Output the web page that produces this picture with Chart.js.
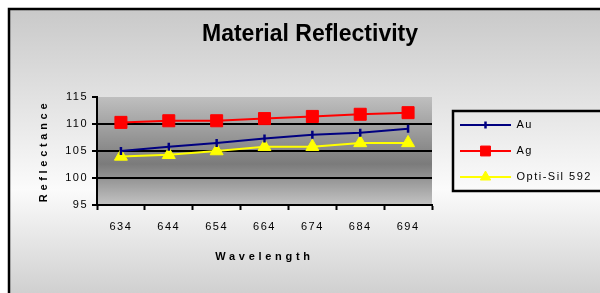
<!DOCTYPE html>
<html>
<head>
<meta charset="utf-8">
<title>Material Reflectivity</title>
<script src="https://cdn.jsdelivr.net/npm/chart.js@4/dist/chart.umd.min.js"></script>
<style>
    html, body { margin: 0; padding: 0; background: #fff; overflow: hidden; }
    #wrap { position: relative; width: 600px; height: 293px; }
</style>
</head>
<body>
<div id="wrap"><canvas id="reflectChart"></canvas></div>
<script>
// Chart data
const wavelengths = ['634', '644', '654', '664', '674', '684', '694'];
const auValues = [105, 105.8, 106.5, 107.3, 108, 108.4, 109.1];
const agValues = [110.3, 110.6, 110.6, 111.0, 111.4, 111.8, 112.1];
const optiSilValues = [104, 104.3, 105, 105.8, 105.8, 106.5, 106.5];
const yMin = 95;
const yMax = 115;
const yStep = 5;

const FONT = "'Liberation Sans', Arial, sans-serif";
const LEGEND_WIDTH = 161;

// Legend sample: short line with the marker in the middle
function legendSample(color, style, radius, rotation, borderWidth) {
    const c = document.createElement('canvas');
    c.width = 64;
    c.height = 18;
    const g = c.getContext('2d');
    g.strokeStyle = color;
    g.fillStyle = color;
    g.lineWidth = 2;
    g.beginPath();
    g.moveTo(13, 9);
    g.lineTo(64, 9);
    g.stroke();
    g.lineWidth = borderWidth;
    Chart.helpers.drawPoint(g, { pointStyle: style, radius: radius, rotation: rotation, borderWidth: borderWidth }, 38.5, 9);
    return c;
}

const legendSamples = [
    legendSample('#000080', 'line', 3.5, 90, 2.5),
    legendSample('#ff0000', 'rect', 7, 0, 1),
    legendSample('#ffff00', 'triangle', 6, 0, 1)
];

// Backgrounds, frame and legend border
const backdrop = {
    id: 'backdrop',
    beforeDraw(chart) {
        const ctx = chart.ctx;
        const area = chart.chartArea;
        ctx.save();
        ctx.fillStyle = '#ffffff';
        ctx.fillRect(0, 0, chart.width, chart.height);

        const outer = ctx.createLinearGradient(0, 9, 0, 300);
        outer.addColorStop(0, '#c9c9c9');
        outer.addColorStop(0.62, '#fbfbfb');
        outer.addColorStop(1, '#cdcdcd');
        ctx.fillStyle = outer;
        ctx.fillRect(9, 9, chart.width, chart.height);

        ctx.strokeStyle = '#000';
        ctx.lineWidth = 2.5;
        ctx.strokeRect(9, 9, chart.width + 20, chart.height + 20);

        const inner = ctx.createLinearGradient(0, area.top, 0, area.bottom);
        inner.addColorStop(0, '#bfbfbf');
        inner.addColorStop(0.62, '#7b7b7b');
        inner.addColorStop(1, '#c3c3c3');
        ctx.fillStyle = inner;
        ctx.fillRect(area.left, area.top, area.right - area.left, area.bottom - area.top);
        ctx.restore();
    },
    afterDraw(chart) {
        const boxes = chart.legend && chart.legend.legendHitBoxes;
        if (!boxes || !boxes.length) return;
        const first = boxes[0];
        const last = boxes[boxes.length - 1];
        const ctx = chart.ctx;
        ctx.save();
        ctx.strokeStyle = '#000';
        ctx.lineWidth = 2.5;
        const top = first.top - 8.5;
        const bottom = last.top + last.height + 8.5;
        ctx.strokeRect(first.left + 6, top, chart.width, bottom - top);
        ctx.restore();
    }
};

// Letter spacing like the original rendering, and a fixed legend width
const spacing = {
    id: 'spacing',
    beforeLayout(chart) {
        chart.ctx.letterSpacing = '1.5px';
        const legend = chart.legend;
        if (legend && !legend.$fixed) {
            const fit = legend.fit;
            legend.fit = function() {
                fit.apply(this, arguments);
                this.width = LEGEND_WIDTH;
            };
            legend.$fixed = true;
        }
    },
    beforeDraw(chart) {
        chart.ctx.letterSpacing = '1.5px';
        Object.values(chart.scales).forEach(scale => {
            if (scale.$spaced) return;
            const drawTitle = scale.drawTitle;
            scale.drawTitle = function() {
                this.ctx.save();
                this.ctx.letterSpacing = '3.7px';
                drawTitle.call(this);
                this.ctx.restore();
            };
            scale.$spaced = true;
        });
        const title = chart.titleBlock;
        if (title && !title.$spaced) {
            const draw = title.draw;
            title.draw = function() {
                this.ctx.save();
                this.ctx.letterSpacing = '0px';
                draw.apply(this, arguments);
                this.ctx.restore();
            };
            title.$spaced = true;
        }
    }
};

new Chart(document.getElementById('reflectChart').getContext('2d'), {
    type: 'line',
    data: {
        labels: wavelengths,
        datasets: [
            {
                label: 'Au',
                data: auValues,
                borderColor: '#000080',
                backgroundColor: '#000080',
                borderWidth: 2,
                tension: 0,
                pointStyle: 'line',
                pointRotation: 90,
                pointRadius: 4,
                pointBorderWidth: 2.5,
                pointBorderColor: '#000080'
            },
            {
                label: 'Ag',
                data: agValues,
                borderColor: '#ff0000',
                backgroundColor: '#ff0000',
                borderWidth: 2,
                tension: 0,
                pointStyle: 'rect',
                pointRadius: 8.5,
                pointBorderWidth: 1,
                pointBackgroundColor: '#ff0000',
                pointBorderColor: '#ff0000'
            },
            {
                label: 'Opti-Sil 592',
                data: optiSilValues,
                borderColor: '#ffff00',
                backgroundColor: '#ffff00',
                borderWidth: 2,
                tension: 0,
                pointStyle: 'triangle',
                pointRadius: 7.5,
                pointBorderWidth: 1,
                pointBackgroundColor: '#ffff00',
                pointBorderColor: '#ffff00'
            }
        ]
    },
    options: {
        responsive: true,
        maintainAspectRatio: false,
        animation: false,
        events: [],
        layout: {
            padding: { top: 10, left: 27, right: 7, bottom: 10 }
        },
        plugins: {
            title: {
                display: true,
                text: 'Material Reflectivity',
                color: '#000',
                font: { family: FONT, size: 23, weight: 'bold' },
                padding: { top: 10.6, bottom: 48.8 }
            },
            legend: {
                position: 'right',
                align: 'center',
                fullSize: false,
                labels: {
                    usePointStyle: true,
                    pointStyleWidth: 64,
                    padding: 15,
                    color: '#000',
                    font: { family: FONT, size: 11 },
                    generateLabels: function(chart) {
                        const items = Chart.defaults.plugins.legend.labels.generateLabels(chart);
                        items.forEach(item => {
                            item.pointStyle = legendSamples[item.datasetIndex];
                            item.rotation = 0;
                        });
                        return items;
                    }
                }
            },
            tooltip: { enabled: false }
        },
        scales: {
            x: {
                offset: true,
                afterFit: function(scale) { scale.height = 78; },
                grid: {
                    display: true,
                    offset: true,
                    drawOnChartArea: false,
                    tickLength: 5,
                    tickColor: '#000',
                    tickWidth: 2
                },
                border: { display: true, color: '#000', width: 2 },
                ticks: {
                    color: '#000',
                    padding: 10.4,
                    font: { family: FONT, size: 11 }
                },
                title: {
                    display: true,
                    text: 'Wavelength',
                    color: '#000',
                    font: { family: FONT, size: 11, weight: 'bold' },
                    padding: { top: 0, bottom: 19.6 }
                }
            },
            y: {
                min: yMin,
                max: yMax,
                afterFit: function(scale) { scale.width = 70; },
                grid: {
                    color: ctx => (ctx.tick && ctx.tick.value === yMax) ? 'rgba(0,0,0,0)' : '#000',
                    lineWidth: 2,
                    tickLength: 5,
                    tickColor: '#000',
                    tickWidth: 2
                },
                border: { display: true, color: '#000', width: 2 },
                ticks: {
                    stepSize: yStep,
                    color: '#000',
                    padding: 4,
                    font: { family: FONT, size: 11 }
                },
                title: {
                    display: true,
                    text: 'Reflectance',
                    color: '#000',
                    font: { family: FONT, size: 11, weight: 'bold' },
                    padding: { top: 10.4, bottom: 0 }
                }
            }
        }
    },
    plugins: [backdrop, spacing]
});
</script>
</body>
</html>
